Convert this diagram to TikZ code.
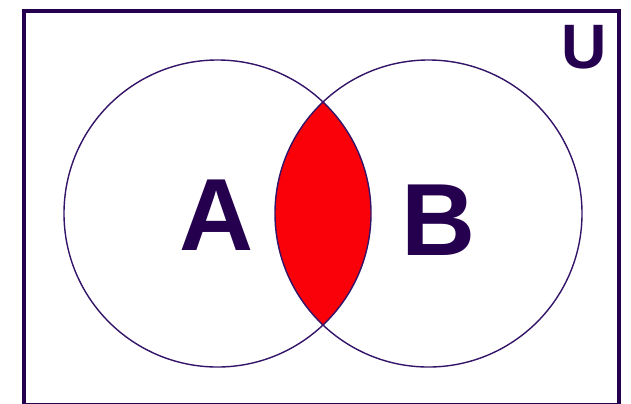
\documentclass[tikz,border=0pt]{standalone}
\usepackage{fontspec}
\setmainfont{Liberation Sans}
\definecolor{vennink}{RGB}{36, 0, 78}
\definecolor{vennline}{RGB}{52, 20, 104}
\definecolor{vennred}{RGB}{250, 0, 8}

\begin{document}
\begin{tikzpicture}[
        x=1bp, y=-1bp,
        universe/.style={draw=vennink, line width=4bp},
        setline/.style={draw=vennline, line width=1.4bp},
        setname/.style={inner sep=0pt, text=vennink, font=\bfseries\fontsize{103}{103}\selectfont},
        uname/.style={inner sep=0pt, text=vennink, font=\bfseries\fontsize{63}{63}\selectfont}
      ]
        \useasboundingbox (0,0) rectangle (631,403);
        \coordinate (ca) at (217.5,213.5);
        \coordinate (cb) at (428.5,213.5);
        % intersection
        \begin{scope}
          \clip (ca) circle[radius=153.5bp];
          \fill[vennred] (cb) circle[radius=153.5bp];
        \end{scope}
        \draw[setline] (ca) circle[radius=153.5bp];
        \draw[setline] (cb) circle[radius=153.5bp];
        \draw[universe] (24,11) rectangle (619,404.5);
        \node[setname] (a) at (217,215) {A};
        \node[setname] (b) at (439,220) {B};
        \node[uname] (u) at (584,47) {U};
      \end{tikzpicture}
\end{document}
